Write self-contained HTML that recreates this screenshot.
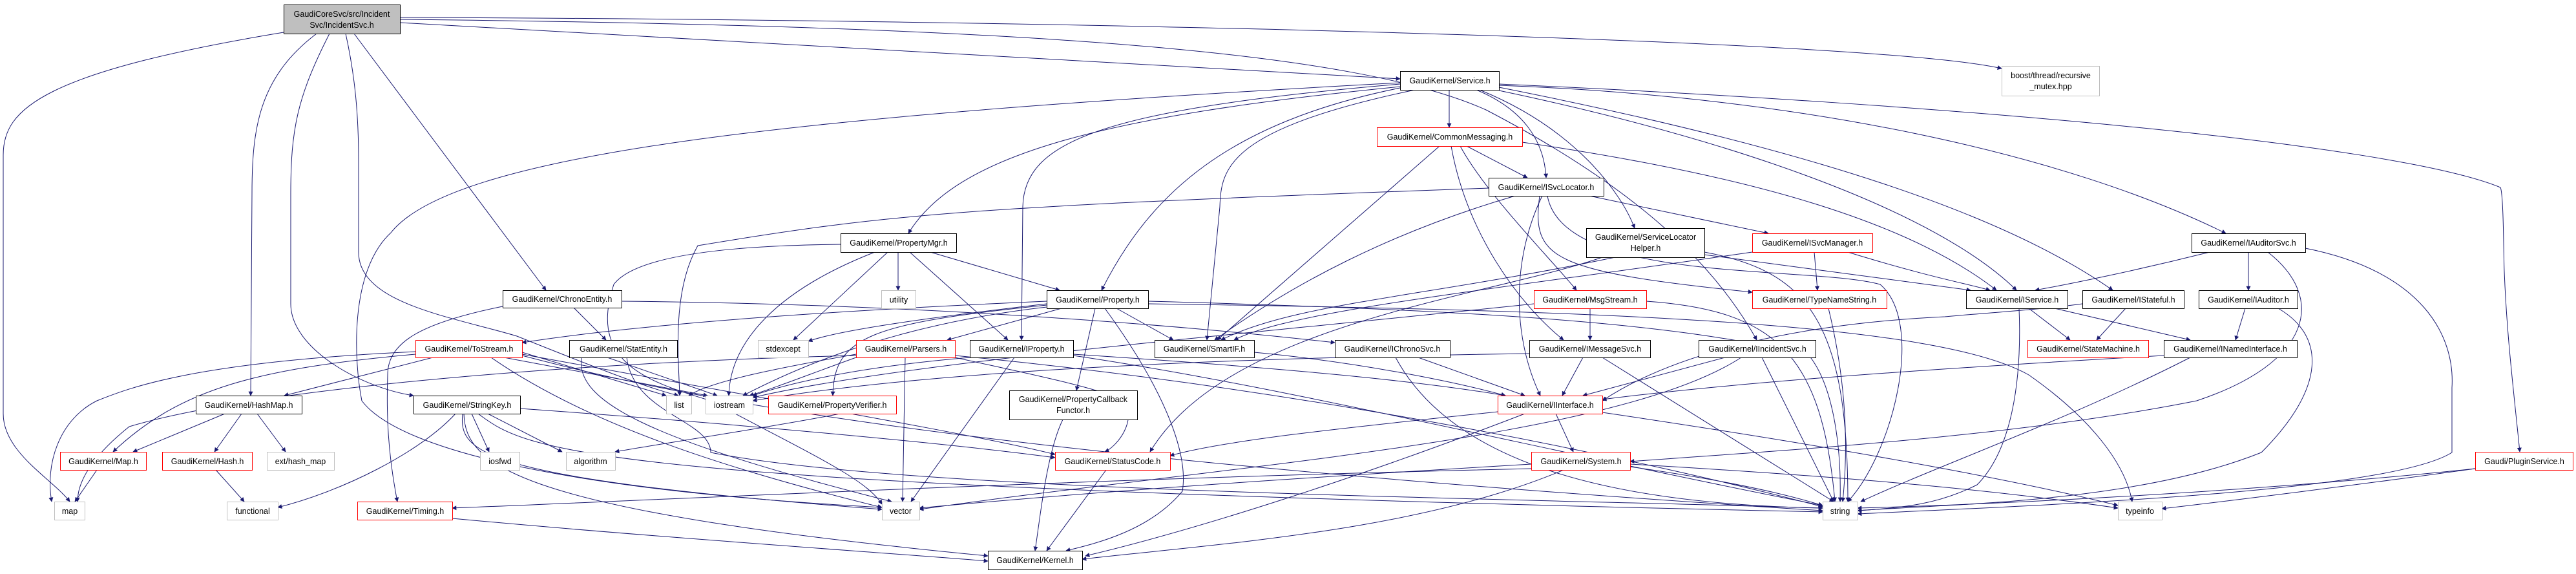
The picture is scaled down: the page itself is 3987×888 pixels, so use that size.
<!DOCTYPE html>
<html><head><meta charset="utf-8"><style>
html,body{margin:0;padding:0;background:#fff;}
svg{display:block;}
text{font-family:"Liberation Sans",sans-serif;font-size:12.5px;fill:#000;text-anchor:middle;}
.e path{fill:none;stroke:#191970;stroke-width:1;}
rect{fill:#fff;stroke-width:1;}
.k{stroke:#000;}
.r{stroke:#ff0000;}
.g{stroke:#bfbfbf;}
</style></head><body>
<svg width="3987" height="888" viewBox="0 0 3987 888" xmlns="http://www.w3.org/2000/svg">
<defs><marker id="a" viewBox="0 0 10 10" refX="9" refY="5" markerWidth="9" markerHeight="7" orient="auto" markerUnits="userSpaceOnUse"><path d="M0,0 L10,5 L0,10 z" fill="#191970"/></marker></defs>
<g class="e" marker-end="url(#a)">
<!-- root -->
<path marker-end="url(#a)" d="M470 45 C60 110,5 170,5 240 L5 640 C5 700,80 740,108 776"/>
<path marker-end="url(#a)" d="M490 52 C400 120,390 200,390 300 L388 612"/>
<path marker-end="url(#a)" d="M510 52 C460 150,450 200,450 300 L450 470 C450 540,560 600,640 612"/>
<path marker-end="url(#a)" d="M548 52 L845 449"/>
<path marker-end="url(#a)" d="M535 52 C550 120,555 180,555 250 L555 390 C555 470,700 490,800 520 C900 560,1000 600,1050 612"/>
<path marker-end="url(#a)" d="M619 35 L2167 122"/>
<path marker-end="url(#a)" d="M619 30 C1600 40,2100 80,2300 170 C2550 300,2660 420,2719 526"/>
<path marker-end="url(#a)" d="M619 27 C1600 30,2900 60,3098 106"/>
<!-- Service.h -->
<path marker-end="url(#a)" d="M2243 139 L2243 197"/>
<path marker-end="url(#a)" d="M2285 139 C2360 170,2390 220,2393 275"/>
<path marker-end="url(#a)" d="M2290 139 C2440 200,2510 300,2530 353"/>
<path marker-end="url(#a)" d="M2167 134 C1700 180,1480 240,1406 361"/>
<path marker-end="url(#a)" d="M2167 136 C1900 190,1780 300,1705 449"/>
<path marker-end="url(#a)" d="M2167 130 C1700 170,1585 220,1583 320 L1581 526"/>
<path marker-end="url(#a)" d="M2190 139 C1900 200,1890 260,1888 320 L1868 526"/>
<path marker-end="url(#a)" d="M2320 140 C2700 220,3000 330,3121 449"/>
<path marker-end="url(#a)" d="M2320 135 C2800 230,3100 330,3270 449"/>
<path marker-end="url(#a)" d="M2320 132 C2800 150,3200 240,3445 361"/>
<path marker-end="url(#a)" d="M2320 130 C3000 160,3700 220,3870 290 C3875 300,3875 400,3876 420 C3880 520,3890 600,3900 699"/>
<path marker-end="url(#a)" d="M2167 128 C1200 180,700 240,605 360 C540 420,548 560,560 620 C620 700,900 760,1365 785"/>
<!-- CommonMessaging -->
<path marker-end="url(#a)" d="M2270 226 L2364 275"/>
<path marker-end="url(#a)" d="M2260 226 C2300 300,2400 400,2440 449"/>
<path marker-end="url(#a)" d="M2246 226 C2270 360,2350 470,2420 526"/>
<path marker-end="url(#a)" d="M2228 226 L1884 526"/>
<path marker-end="url(#a)" d="M2356 220 C2700 270,2950 340,3090 449"/>
<!-- ISvcLocator -->
<path marker-end="url(#a)" d="M2460 303 L2737 361"/>
<path marker-end="url(#a)" d="M2387 303 C2340 400,2340 520,2384 612"/>
<path marker-end="url(#a)" d="M2345 303 C2150 360,2000 440,1880 526"/>
<path marker-end="url(#a)" d="M2383 303 C2370 400,2400 420,2712 452"/>
<path marker-end="url(#a)" d="M2395 303 C2420 440,2800 410,2910 440 C2980 500,2930 700,2860 776"/>
<path marker-end="url(#a)" d="M2304 291 C1500 320,1380 330,1080 380 C1040 450,1050 550,1052 612"/>
<!-- ServiceLocatorHelper -->
<path marker-end="url(#a)" d="M2500 398 C2200 460,2000 470,1890 526"/>
<path marker-end="url(#a)" d="M2480 398 C2300 460,1900 500,1780 699"/>
<path marker-end="url(#a)" d="M2638 390 C2800 420,2860 500,2860 776"/>
<path marker-end="url(#a)" d="M2638 394 L3050 449"/>
<!-- ISvcManager -->
<path marker-end="url(#a)" d="M2808 390 L2813 449"/>
<path marker-end="url(#a)" d="M2860 390 C2990 430,3050 440,3080 449"/>
<path marker-end="url(#a)" d="M2712 390 C2300 450,2000 480,1910 526"/>
<!-- PropertyMgr -->
<path marker-end="url(#a)" d="M1440 390 L1640 449"/>
<path marker-end="url(#a)" d="M1408 390 L1560 526"/>
<path marker-end="url(#a)" d="M1390 390 L1390 449"/>
<path marker-end="url(#a)" d="M1374 390 L1228 526"/>
<path marker-end="url(#a)" d="M1354 390 C1200 450,1130 530,1128 612"/>
<path marker-end="url(#a)" d="M1301 378 C1100 380,980 400,950 440 C910 560,1000 590,1100 620 C1250 700,1340 740,1365 780"/>
<!-- Property.h -->
<path marker-end="url(#a)" d="M1643 477 L1466 526"/>
<path marker-end="url(#a)" d="M1620 472 C1350 500,1290 520,1289 612"/>
<path marker-end="url(#a)" d="M1728 477 L1816 526"/>
<path marker-end="url(#a)" d="M1695 477 L1666 604"/>
<path marker-end="url(#a)" d="M1620 470 C1450 490,1300 510,1251 528"/>
<path marker-end="url(#a)" d="M1620 466 C1300 480,1000 500,808 530"/>
<path marker-end="url(#a)" d="M1710 477 C1800 600,1840 700,1830 760 C1780 820,1700 840,1650 852"/>
<path marker-end="url(#a)" d="M1777 466 C2300 480,2600 500,2800 550 C2840 600,2850 700,2848 776"/>
<path marker-end="url(#a)" d="M1777 470 C2500 480,3000 500,3140 580 C3240 650,3290 720,3300 776"/>
<path marker-end="url(#a)" d="M1620 475 C1400 500,1250 560,1150 612"/>
<!-- ChronoEntity -->
<path marker-end="url(#a)" d="M888 476 L938 526"/>
<path marker-end="url(#a)" d="M962 466 C1400 470,1800 500,2066 530"/>
<path marker-end="url(#a)" d="M778 474 C650 500,600 530,600 580 C598 640,600 700,615 776"/>
<!-- StatEntity -->
<path marker-end="url(#a)" d="M970 553 C980 640,1100 650,1100 700 C1400 760,2300 770,2821 786"/>
<path marker-end="url(#a)" d="M940 553 L1110 612"/>
<path marker-end="url(#a)" d="M900 553 C890 620,1000 680,1380 776"/>
<!-- ToStream -->
<path marker-end="url(#a)" d="M670 553 L440 612"/>
<path marker-end="url(#a)" d="M643 548 C400 570,280 600,175 699"/>
<path marker-end="url(#a)" d="M643 544 C300 560,200 600,150 620 C90 650,70 720,80 776"/>
<path marker-end="url(#a)" d="M808 545 L1031 612"/>
<path marker-end="url(#a)" d="M780 553 L1095 612"/>
<path marker-end="url(#a)" d="M808 550 C1000 600,1400 700,2821 790"/>
<path marker-end="url(#a)" d="M760 553 C900 650,1100 720,1365 785"/>
<path marker-end="url(#a)" d="M808 548 C1200 620,1500 670,1633 703"/>
<!-- HashMap -->
<path marker-end="url(#a)" d="M348 640 L206 699"/>
<path marker-end="url(#a)" d="M374 640 L332 699"/>
<path marker-end="url(#a)" d="M398 640 L442 699"/>
<path marker-end="url(#a)" d="M150 727 L116 776"/>
<path marker-end="url(#a)" d="M334 727 L378 776"/>
<!-- StringKey -->
<path marker-end="url(#a)" d="M730 640 L757 699"/>
<path marker-end="url(#a)" d="M755 640 L870 699"/>
<path marker-end="url(#a)" d="M705 640 C650 700,530 760,430 785"/>
<path marker-end="url(#a)" d="M740 640 C820 700,900 750,2821 792"/>
<path marker-end="url(#a)" d="M716 640 C710 700,740 740,1365 788"/>
<path marker-end="url(#a)" d="M718 640 C720 720,800 790,1529 860"/>
<path marker-end="url(#a)" d="M805 632 C1200 660,1500 690,1633 708"/>
<!-- Parsers -->
<path marker-end="url(#a)" d="M1401 553 L1397 776"/>
<path marker-end="url(#a)" d="M1325 548 C1200 570,1100 590,1066 612"/>
<path marker-end="url(#a)" d="M1325 550 C900 560,400 600,200 660 C150 700,120 740,120 776"/>
<path marker-end="url(#a)" d="M1478 553 C1600 580,1700 600,1740 620 C1760 650,1730 690,1710 699"/>
<path marker-end="url(#a)" d="M1478 550 C2000 600,2500 700,2821 784"/>
<path marker-end="url(#a)" d="M1325 553 C1250 580,1200 600,1160 612"/>
<!-- IProperty -->
<path marker-end="url(#a)" d="M1661 548 C2000 570,2200 590,2330 612"/>
<path marker-end="url(#a)" d="M1570 553 L1410 776"/>
<path marker-end="url(#a)" d="M1501 553 C1300 570,1200 600,1165 612"/>
<path marker-end="url(#a)" d="M1661 550 C2000 600,2400 700,2821 782"/>
<path marker-end="url(#a)" d="M1645 649 C1620 700,1610 800,1602 852"/>
<path marker-end="url(#a)" d="M1300 640 C1200 660,1000 690,952 699"/>
<path marker-end="url(#a)" d="M1712 727 L1620 852"/>
<!-- MsgStream, IMessageSvc -->
<path marker-end="url(#a)" d="M2461 477 L2461 526"/>
<path marker-end="url(#a)" d="M2374 470 C1900 520,1400 560,1165 615"/>
<path marker-end="url(#a)" d="M2548 466 C2750 480,2820 550,2840 776"/>
<path marker-end="url(#a)" d="M2450 553 L2418 612"/>
<path marker-end="url(#a)" d="M2480 553 L2838 776"/>
<path marker-end="url(#a)" d="M2367 547 C1800 555,1400 580,1165 620"/>
<!-- IChronoSvc -->
<path marker-end="url(#a)" d="M2195 553 L2360 612"/>
<path marker-end="url(#a)" d="M2160 553 C2250 720,2500 780,2821 786"/>
<!-- IIncidentSvc -->
<path marker-end="url(#a)" d="M2670 553 L2450 612"/>
<path marker-end="url(#a)" d="M2727 553 L2838 776"/>
<path marker-end="url(#a)" d="M2695 553 C2500 680,1900 720,1423 788"/>
<!-- IInterface -->
<path marker-end="url(#a)" d="M2408 640 L2435 699"/>
<path marker-end="url(#a)" d="M2360 640 C2100 740,1850 820,1680 860"/>
<path marker-end="url(#a)" d="M2318 637 C2100 660,1900 680,1811 705"/>
<path marker-end="url(#a)" d="M2480 638 C2900 700,3150 750,3278 782"/>
<!-- System.h -->
<path marker-end="url(#a)" d="M2523 722 C2650 740,2750 760,2821 782"/>
<path marker-end="url(#a)" d="M2370 718 C2000 740,1700 760,1423 786"/>
<path marker-end="url(#a)" d="M2523 718 C2900 740,3100 760,3278 786"/>
<path marker-end="url(#a)" d="M2420 727 C2200 820,1900 840,1675 865"/>
<path marker-end="url(#a)" d="M2370 725 C1700 740,1100 770,700 786"/>
<path marker-end="url(#a)" d="M700 802 C1000 830,1300 850,1529 868"/>
<!-- IService, etc -->
<path marker-end="url(#a)" d="M3140 477 L3204 526"/>
<path marker-end="url(#a)" d="M3180 477 L3390 526"/>
<path marker-end="url(#a)" d="M3125 477 C3130 600,3110 700,3060 750 C3000 780,2950 785,2875 790"/>
<path marker-end="url(#a)" d="M3290 477 L3245 526"/>
<path marker-end="url(#a)" d="M3223 470 C3150 480,3060 485,3010 490 C2800 500,2600 540,2480 620"/>
<path marker-end="url(#a)" d="M3475 477 L3460 526"/>
<path marker-end="url(#a)" d="M3526 477 C3600 520,3600 600,3500 700 C3300 780,3000 780,2875 790"/>
<path marker-end="url(#a)" d="M3420 390 C3300 420,3200 440,3150 449"/>
<path marker-end="url(#a)" d="M3480 390 L3480 449"/>
<path marker-end="url(#a)" d="M3510 390 C3600 460,3580 560,3400 620 C3100 680,2700 700,2523 714"/>
<path marker-end="url(#a)" d="M3568 384 C3750 420,3800 520,3795 600 L3795 700 C3700 760,3200 780,2875 795"/>
<path marker-end="url(#a)" d="M3390 553 C3200 650,3000 720,2880 776"/>
<path marker-end="url(#a)" d="M3349 550 C3000 570,2700 590,2480 618"/>
<path marker-end="url(#a)" d="M3831 725 C3500 760,3100 780,2875 786"/>
<path marker-end="url(#a)" d="M3831 725 C3650 750,3450 775,3346 787"/>
<path marker-end="url(#a)" d="M2830 477 C2860 600,2860 700,2852 776"/>
<path marker-end="url(#a)" d="M1941 545 C2100 560,2250 590,2330 612"/>
</g>
<g>
<rect x="439.5" y="7.5" width="180" height="45" class="k" style="fill:#bfbfbf"/><text x="529" y="26">GaudiCoreSvc/src/Incident</text><text x="529" y="43">Svc/IncidentSvc.h</text>
<rect x="2167.5" y="110.5" width="153" height="29" class="k"/><text x="2244" y="129">GaudiKernel/Service.h</text>
<rect x="3098.5" y="102.5" width="151" height="46" class="g"/><text x="3174" y="121">boost/thread/recursive</text><text x="3174" y="138">_mutex.hpp</text>
<rect x="2131.5" y="197.5" width="225" height="29" class="r"/><text x="2244" y="216">GaudiKernel/CommonMessaging.h</text>
<rect x="2304.5" y="275.5" width="178" height="28" class="k"/><text x="2393" y="294">GaudiKernel/ISvcLocator.h</text>
<rect x="2455.5" y="353.5" width="183" height="45" class="k"/><text x="2547" y="371">GaudiKernel/ServiceLocator</text><text x="2547" y="388">Helper.h</text>
<rect x="2712.5" y="361.5" width="186" height="29" class="r"/><text x="2805" y="380">GaudiKernel/ISvcManager.h</text>
<rect x="1301.5" y="361.5" width="179" height="29" class="k"/><text x="1391" y="380">GaudiKernel/PropertyMgr.h</text>
<rect x="3392.5" y="361.5" width="176" height="29" class="k"/><text x="3480" y="380">GaudiKernel/IAuditorSvc.h</text>
<rect x="778.5" y="449.5" width="184" height="27" class="k"/><text x="870" y="467">GaudiKernel/ChronoEntity.h</text>
<rect x="1364.5" y="449.5" width="53" height="28" class="g"/><text x="1391" y="468">utility</text>
<rect x="1620.5" y="449.5" width="157" height="28" class="k"/><text x="1699" y="468">GaudiKernel/Property.h</text>
<rect x="2374.5" y="449.5" width="174" height="28" class="r"/><text x="2461" y="468">GaudiKernel/MsgStream.h</text>
<rect x="2712.5" y="449.5" width="208" height="28" class="r"/><text x="2816" y="468">GaudiKernel/TypeNameString.h</text>
<rect x="3043.5" y="449.5" width="157" height="28" class="k"/><text x="3122" y="468">GaudiKernel/IService.h</text>
<rect x="3223.5" y="449.5" width="157" height="28" class="k"/><text x="3302" y="468">GaudiKernel/IStateful.h</text>
<rect x="3403.5" y="449.5" width="153" height="28" class="k"/><text x="3480" y="468">GaudiKernel/IAuditor.h</text>
<rect x="643.5" y="526.5" width="165" height="27" class="r"/><text x="726" y="544">GaudiKernel/ToStream.h</text>
<rect x="881.5" y="526.5" width="167" height="27" class="k"/><text x="965" y="544">GaudiKernel/StatEntity.h</text>
<rect x="1173.5" y="526.5" width="78" height="27" class="g"/><text x="1212" y="544">stdexcept</text>
<rect x="1325.5" y="526.5" width="153" height="27" class="r"/><text x="1402" y="544">GaudiKernel/Parsers.h</text>
<rect x="1501.5" y="526.5" width="160" height="27" class="k"/><text x="1581" y="544">GaudiKernel/IProperty.h</text>
<rect x="1787.5" y="526.5" width="154" height="27" class="k"/><text x="1864" y="544">GaudiKernel/SmartIF.h</text>
<rect x="2066.5" y="526.5" width="178" height="27" class="k"/><text x="2155" y="544">GaudiKernel/IChronoSvc.h</text>
<rect x="2367.5" y="526.5" width="187" height="27" class="k"/><text x="2461" y="544">GaudiKernel/IMessageSvc.h</text>
<rect x="2629.5" y="526.5" width="181" height="27" class="k"/><text x="2720" y="544">GaudiKernel/IIncidentSvc.h</text>
<rect x="3138.5" y="526.5" width="187" height="27" class="r"/><text x="3232" y="544">GaudiKernel/StateMachine.h</text>
<rect x="3349.5" y="526.5" width="206" height="27" class="k"/><text x="3452" y="544">GaudiKernel/INamedInterface.h</text>
<rect x="303.5" y="612.5" width="164" height="28" class="k"/><text x="385" y="631">GaudiKernel/HashMap.h</text>
<rect x="640.5" y="612.5" width="165" height="28" class="k"/><text x="723" y="631">GaudiKernel/StringKey.h</text>
<rect x="1031.5" y="612.5" width="39" height="28" class="g"/><text x="1051" y="631">list</text>
<rect x="1092.5" y="612.5" width="73" height="28" class="g"/><text x="1129" y="631">iostream</text>
<rect x="1189.5" y="612.5" width="198" height="28" class="r"/><text x="1288" y="631">GaudiKernel/PropertyVerifier.h</text>
<rect x="1562.5" y="604.5" width="198" height="45" class="k"/><text x="1661" y="622">GaudiKernel/PropertyCallback</text><text x="1661" y="639">Functor.h</text>
<rect x="2318.5" y="612.5" width="162" height="28" class="r"/><text x="2399" y="631">GaudiKernel/IInterface.h</text>
<rect x="93.5" y="699.5" width="133" height="28" class="r"/><text x="160" y="718">GaudiKernel/Map.h</text>
<rect x="251.5" y="699.5" width="139" height="28" class="r"/><text x="321" y="718">GaudiKernel/Hash.h</text>
<rect x="413.5" y="699.5" width="104" height="28" class="g"/><text x="465" y="718">ext/hash_map</text>
<rect x="743.5" y="699.5" width="61" height="28" class="g"/><text x="774" y="718">iosfwd</text>
<rect x="876.5" y="699.5" width="76" height="28" class="g"/><text x="914" y="718">algorithm</text>
<rect x="1633.5" y="699.5" width="178" height="28" class="r"/><text x="1722" y="718">GaudiKernel/StatusCode.h</text>
<rect x="2370.5" y="699.5" width="153" height="28" class="r"/><text x="2447" y="718">GaudiKernel/System.h</text>
<rect x="3831.5" y="699.5" width="151" height="28" class="r"/><text x="3907" y="718">Gaudi/PluginService.h</text>
<rect x="84.5" y="776.5" width="47" height="28" class="g"/><text x="108" y="795">map</text>
<rect x="351.5" y="776.5" width="79" height="28" class="g"/><text x="391" y="795">functional</text>
<rect x="553.5" y="776.5" width="147" height="28" class="r"/><text x="627" y="795">GaudiKernel/Timing.h</text>
<rect x="1365.5" y="776.5" width="58" height="28" class="g"/><text x="1394" y="795">vector</text>
<rect x="2821.5" y="776.5" width="54" height="28" class="g"/><text x="2848" y="795">string</text>
<rect x="3278.5" y="776.5" width="68" height="28" class="g"/><text x="3312" y="795">typeinfo</text>
<rect x="1529.5" y="852.5" width="146" height="29" class="k"/><text x="1602" y="871">GaudiKernel/Kernel.h</text>
</g>
</svg>
</body></html>
